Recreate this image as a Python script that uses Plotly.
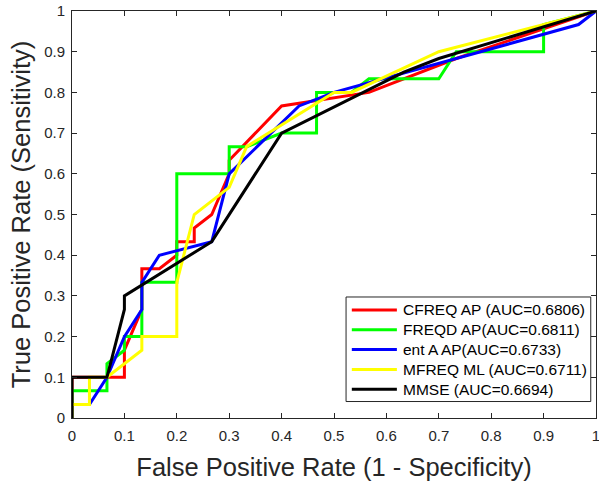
import plotly.graph_objects as go

# ---- data ----
red_x = [0, 0, 0.1, 0.1, 0.1333, 0.1333, 0.1667, 0.2, 0.2, 0.2333, 0.2333, 0.2667, 0.3, 0.3, 0.4, 0.5667, 0.7333, 1]
red_y = [0, 0.1, 0.1, 0.1667, 0.2667, 0.3667, 0.3667, 0.4, 0.4333, 0.4333, 0.4667, 0.5, 0.6, 0.6333, 0.7667, 0.8, 0.8833, 1]

green_x = [0, 0, 0.0667, 0.0667, 0.1, 0.1, 0.1333, 0.1333, 0.2, 0.2, 0.3, 0.3, 0.3333, 0.4, 0.4667, 0.4667, 0.5333, 0.5667, 0.7, 0.7333, 0.9, 0.9, 1]
green_y = [0, 0.0667, 0.0667, 0.1333, 0.1667, 0.2, 0.2, 0.3333, 0.3333, 0.6, 0.6, 0.6667, 0.6667, 0.7, 0.7, 0.8, 0.8, 0.8333, 0.8333, 0.9, 0.9, 0.9667, 1]

blue_x = [0, 0, 0.0333, 0.0667, 0.1, 0.1333, 0.1333, 0.1667, 0.2667, 0.3, 0.4333, 0.5, 0.9667, 1]
blue_y = [0, 0.0333, 0.0333, 0.1, 0.2, 0.2667, 0.3333, 0.4, 0.4333, 0.6, 0.7667, 0.8, 0.9667, 1]

yellow_x = [0, 0, 0.0333, 0.0333, 0.0667, 0.1333, 0.1333, 0.2, 0.2, 0.2333, 0.3, 0.3333, 0.5, 0.5333, 0.7, 1]
yellow_y = [0, 0.0333, 0.0333, 0.1, 0.1, 0.1667, 0.2, 0.2, 0.3333, 0.5, 0.5667, 0.6667, 0.8, 0.8, 0.9, 1]

black_x = [0, 0, 0.0667, 0.1, 0.1, 0.2667, 0.4, 0.6333, 0.7, 1]
black_y = [0, 0.1, 0.1, 0.2667, 0.3, 0.4333, 0.7, 0.85, 0.8833, 1]

series_names = ["CFREQ AP (AUC=0.6806)", "FREQD AP(AUC=0.6811)", "ent A AP(AUC=0.6733)",
                "MFREQ ML (AUC=0.6711)", "MMSE (AUC=0.6694)"]
series_colors = ["#FF0000", "#00FF00", "#0000FF", "#FFFF00", "#000000"]

tick_vals = [0, 0.1, 0.2, 0.3, 0.4, 0.5, 0.6, 0.7, 0.8, 0.9, 1]
tick_text = ["0", "0.1", "0.2", "0.3", "0.4", "0.5", "0.6", "0.7", "0.8", "0.9", "1"]

xs = [red_x, green_x, blue_x, yellow_x, black_x]
ys = [red_y, green_y, blue_y, yellow_y, black_y]

fig = go.Figure()
for x, y, n, c in zip(xs, ys, series_names, series_colors):
    fig.add_trace(go.Scatter(x=x, y=y, mode="lines", name=n, showlegend=False,
                             line=dict(color=c, width=3)))

axcol = "#262626"

# ---- MATLAB-style legend box (paper coordinates of the plot area) ----
leg_x0, leg_x1 = 0.523, 0.990
leg_y0, leg_y1 = 0.0405, 0.2973
row_top, row_step = 0.2654, 0.04865
sw_x0, sw_x1, txt_x = 0.534, 0.620, 0.627

fig.add_shape(type="rect", xref="paper", yref="paper",
              x0=leg_x0, x1=leg_x1, y0=leg_y0, y1=leg_y1,
              line=dict(color=axcol, width=1), fillcolor="white", layer="above")
for i, (n, c) in enumerate(zip(series_names, series_colors)):
    yy = row_top - i * row_step
    fig.add_shape(type="line", xref="paper", yref="paper",
                  x0=sw_x0, x1=sw_x1, y0=yy, y1=yy,
                  line=dict(color=c, width=3), layer="above")
    fig.add_annotation(xref="paper", yref="paper", x=txt_x, y=yy,
                       text=n, showarrow=False, xanchor="left", yanchor="middle",
                       font=dict(size=15.5, color="#000000"))

axis_common = dict(range=[0, 1], tickvals=tick_vals, ticktext=tick_text,
                   ticks="inside", ticklen=5, tickcolor=axcol, tickwidth=1,
                   showline=True, linecolor=axcol, linewidth=1, mirror="ticks",
                   showgrid=False, zeroline=False, automargin=False,
                   ticklabeloverflow="allow",
                   tickfont=dict(size=15, color=axcol))

fig.update_layout(
    width=599, height=484,
    margin=dict(l=72, r=3, t=11, b=66, autoexpand=False),
    paper_bgcolor="white", plot_bgcolor="white",
    font=dict(family="Liberation Sans, Arial, sans-serif", color=axcol),
    xaxis=dict(**axis_common, ticklabelstandoff=4,
               title=dict(text="False Positive Rate (1 - Specificity)",
                          font=dict(size=25.5, color=axcol))),
    yaxis=dict(**axis_common, ticklabelstandoff=3,
               title=dict(text="True Positive Rate (Sensitivity)", standoff=6,
                          font=dict(size=25.5, color=axcol))),
    showlegend=False,
)

fig.write_html("out.html", config={"displayModeBar": False},
               post_script="document.body.style.margin='0px';document.body.style.overflow='hidden';")
